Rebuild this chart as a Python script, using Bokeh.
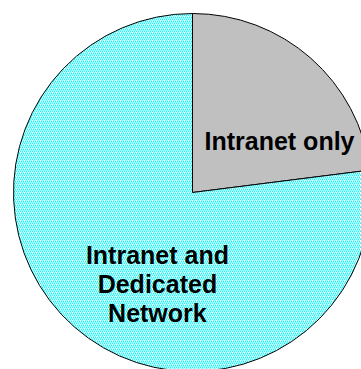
from math import pi
from bokeh.plotting import figure
from bokeh.models import ColumnDataSource
from bokeh.core.properties import value
from bokeh.embed import file_html
from bokeh.resources import INLINE

categories = ["Intranet only", "Intranet and\nDedicated\nNetwork"]
shares = [23, 77]
colors = ["#C0C0C0", "#FFFFFF"]
hatches = [" ", "/"]

# label positions (relative to pie centre, in radius fractions)
label_dx = [0.486, -0.196]
label_dy = [0.285, -0.511]

R = 179
total = float(sum(shares))
starts, ends = [], []
a = pi / 2
for s in shares:
    starts.append(a)
    a -= s / total * 2 * pi
    ends.append(a)

src = ColumnDataSource(dict(cat=categories, start=starts, end=ends, color=colors, hatch=hatches))

p = figure(width=361, height=369, x_range=(-192, 169), y_range=(-177, 192),
           output_backend="svg", toolbar_location=None, min_border=0)
p.axis.visible = False
p.grid.visible = False
p.outline_line_color = None
p.background_fill_color = "white"
p.border_fill_color = "white"

p.wedge(x=0, y=0, radius=R, start_angle="start", end_angle="end", direction="clock",
        fill_color="color", line_color="black", line_width=1,
        hatch_pattern="hatch", hatch_color="#00FFFF", hatch_scale=4, hatch_weight=1,
        source=src)

p.text(x=[d * R for d in label_dx], y=[d * R for d in label_dy], text=categories,
       text_font=value("Liberation Sans"), text_font_style="bold", text_font_size="25px",
       text_align="center", text_baseline="middle", text_color="black", text_line_height=1.03)

open("out.html", "w").write(file_html(p, INLINE))
